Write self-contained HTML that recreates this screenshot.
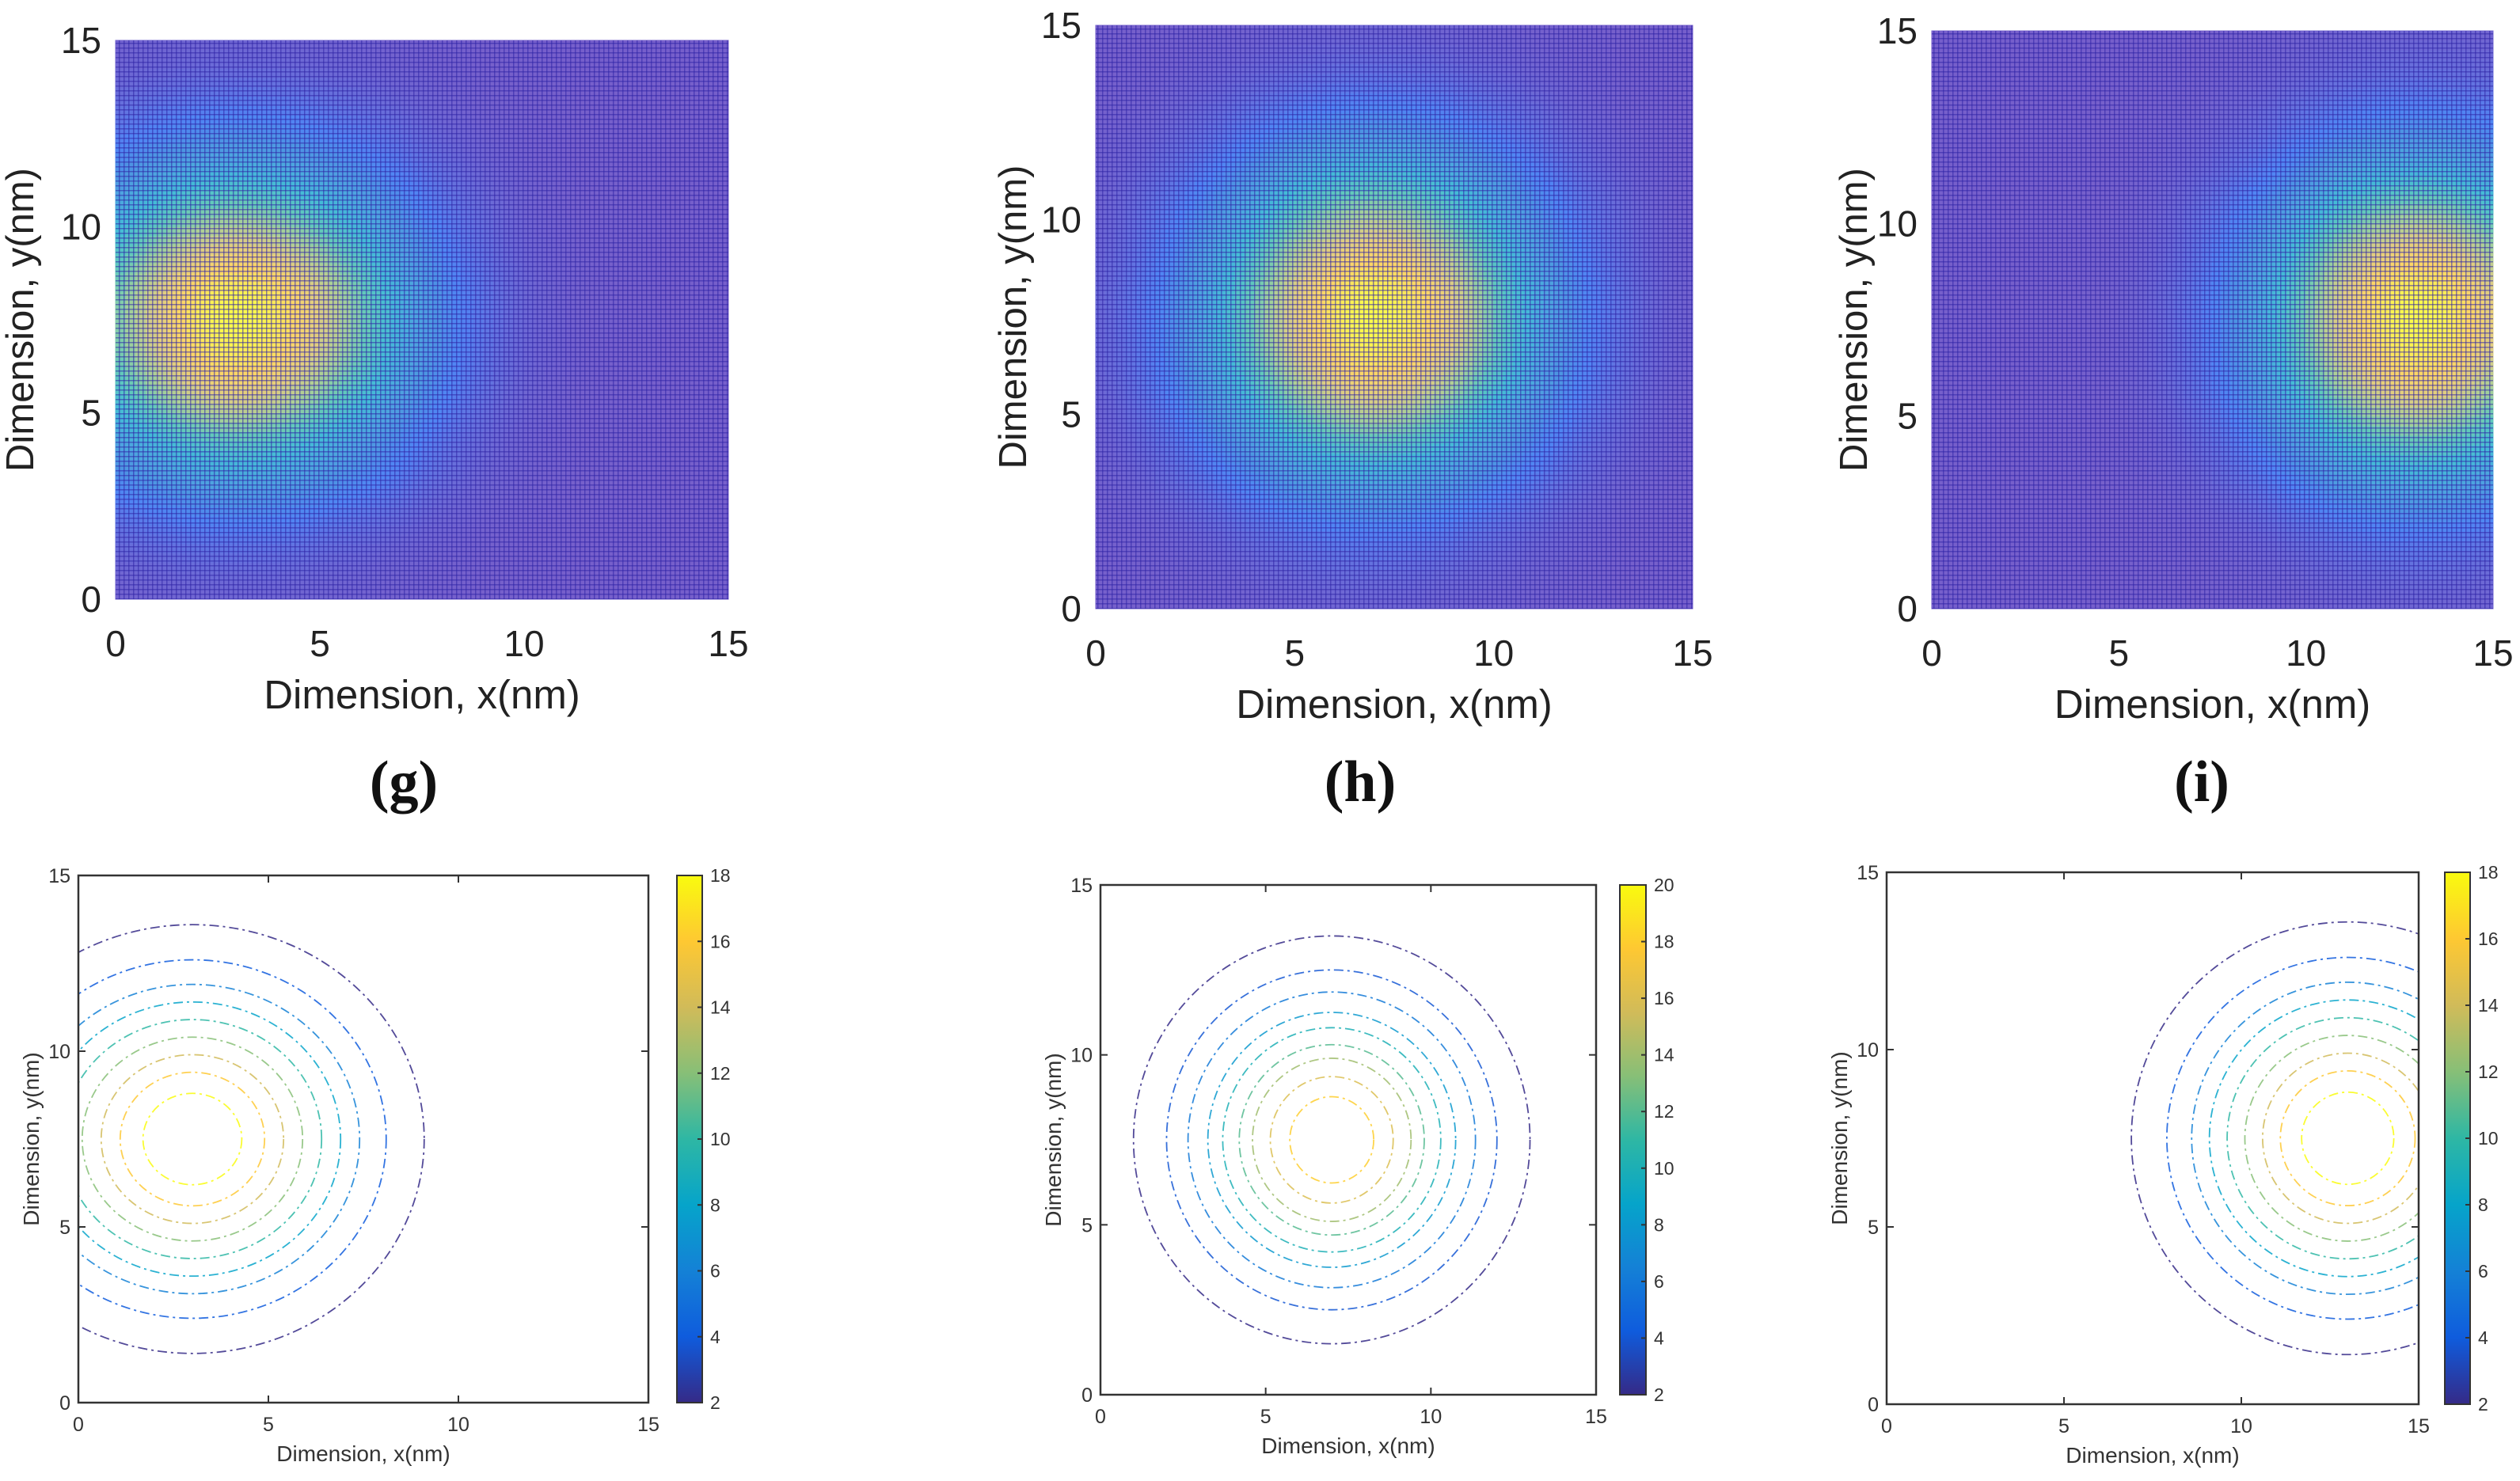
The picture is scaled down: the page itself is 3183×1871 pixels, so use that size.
<!DOCTYPE html>
<html><head><meta charset="utf-8">
<style>
html,body{margin:0;padding:0;background:#fff;}
body{width:3183px;height:1871px;overflow:hidden;}
svg{display:block;}
</style></head>
<body>
<svg id="fig" width="3183" height="1871" viewBox="0 0 3183 1871" xmlns="http://www.w3.org/2000/svg">
<defs>
<pattern id="mesh" width="6" height="6" patternUnits="userSpaceOnUse">
<rect x="0" y="0" width="6" height="1.5" fill="rgba(45,35,165,0.55)"/>
<rect x="0" y="0" width="1.5" height="6" fill="rgba(45,35,165,0.55)"/>
</pattern>
<linearGradient id="parulaGrad" x1="0" y1="1" x2="0" y2="0">
<stop offset="0" stop-color="#352a87"/><stop offset="0.125" stop-color="#0f5cdd"/>
<stop offset="0.25" stop-color="#1481d6"/><stop offset="0.375" stop-color="#06a4ca"/>
<stop offset="0.5" stop-color="#2eb7a4"/><stop offset="0.625" stop-color="#87bf77"/>
<stop offset="0.75" stop-color="#d1bb59"/><stop offset="0.875" stop-color="#fec832"/>
<stop offset="1" stop-color="#f9fb0e"/>
</linearGradient>
</defs>
<g id="root"></g>
</svg>
<script>
// ---- data ----
const axisTicks = [0, 5, 10, 15];
const panelLabels = ["(g)", "(h)", "(i)"];
const peakX = [3, 7, 13];
const peakY = [7.5, 7.5, 7.5];
const peakSigma = [2.7, 2.7, 2.7];
const contourLevels = [2, 4, 6, 8, 10, 12, 14, 16, 18];
const contourRadiiG = [6.1, 5.1, 4.4, 3.9, 3.4, 2.9, 2.4, 1.9, 1.3];
const contourRadiiH = [6.0, 5.0, 4.35, 3.75, 3.3, 2.8, 2.4, 1.86, 1.27];
const contourRadiiI = [6.1, 5.1, 4.4, 3.9, 3.4, 2.9, 2.4, 1.9, 1.3];
const colorbarMax = [18, 20, 18];
const colorbarTicksG = [2, 4, 6, 8, 10, 12, 14, 16, 18];
const colorbarTicksH = [2, 4, 6, 8, 10, 12, 14, 16, 18, 20];
const colorbarTicksI = [2, 4, 6, 8, 10, 12, 14, 16, 18];

// ---- layout (pixels) ----
const topBoxes = [
  {l:146,r:920,t:51,b:757,ytx:42},
  {l:1384,r:2138,t:32,b:769,ytx:1296},
  {l:2440,r:3149,t:39,b:769,ytx:2358}
];
const botBoxes = [
  {l:99,r:819,t:1106,b:1772,cl:855,cr:887},
  {l:1390,r:2016,t:1118,b:1762,cl:2046,cr:2079},
  {l:2383,r:3055,t:1102,b:1774,cl:3088,cr:3120}
];
const labelX = [510, 1718, 2781];
const radii = [contourRadiiG, contourRadiiH, contourRadiiI];
const cbTicks = [colorbarTicksG, colorbarTicksH, colorbarTicksI];

const NS = "http://www.w3.org/2000/svg";
const root = document.getElementById("root");
function mk(tag, attrs, parent){const e=document.createElementNS(NS,tag);for(const k in attrs)e.setAttribute(k,attrs[k]);(parent||root).appendChild(e);return e;}
const stops=[[0,[53,42,135]],[0.125,[15,92,221]],[0.25,[20,129,214]],[0.375,[6,164,202]],[0.5,[46,183,164]],[0.625,[135,191,119]],[0.75,[209,187,89]],[0.875,[254,200,50]],[1,[249,251,14]]];
function parula(v){v=Math.max(0,Math.min(1,v));for(let i=1;i<stops.length;i++){if(v<=stops[i][0]){const a=stops[i-1],b=stops[i];const f=(v-a[0])/(b[0]-a[0]);return [0,1,2].map(j=>a[1][j]+(b[1][j]-a[1][j])*f);}}return stops[stops.length-1][1];}
function rgb(c,w){return "rgb("+c.map(x=>Math.round(x+(255-x)*w)).join(",")+")";}
const FONT='"Liberation Sans", Arial, sans-serif';

// ---- top heatmaps ----
topBoxes.forEach((B,p)=>{
  const g=mk("g",{});
  
  
  const sx=v=>B.l+(B.r-B.l)*v/15, sy=v=>B.b-(B.b-B.t)*v/15;
  const N=60, step=15/N;
  for(let i=0;i<N;i++)for(let j=0;j<N;j++){
    const x=(i+0.5)*step,y=(j+0.5)*step;
    const d2=(x-peakX[p])**2+(y-peakY[p])**2;
    const v=Math.exp(-d2/(2*peakSigma[p]**2));
    const base=parula(v);
    if(v<0.2){base[0]+=20*(0.2-v)/0.2;base[2]+=50*(0.2-v)/0.2;}
    const r=mk("rect",{x:sx(i*step)-0.5,y:sy((j+1)*step)-0.5,width:(B.r-B.l)/N+1,height:(B.b-B.t)/N+1,fill:rgb(base.map(c=>Math.min(255,c)),0.25)},g);
    
    
  }
  const m=mk("rect",{x:B.l,y:B.t,width:B.r-B.l,height:B.b-B.t,fill:"url(#mesh)"},g);
  
  
  axisTicks.forEach(t=>{
    const tx=mk("text",{x:sx(t),y:B.b+72,"font-size":46,"font-family":FONT,"text-anchor":"middle",fill:"#222"},g);tx.textContent=t;
    
    
    const ty=mk("text",{x:B.l-18,y:sy(t)+16,"font-size":46,"font-family":FONT,"text-anchor":"end",fill:"#222"},g);ty.textContent=t;
    
    
  });
  const xt=mk("text",{x:(B.l+B.r)/2,y:B.b+138,"font-size":51,"font-family":FONT,"text-anchor":"middle",fill:"#222"},g);xt.textContent="Dimension, x(nm)";
  
  
  const yc=(B.t+B.b)/2;
  const yt=mk("text",{x:B.ytx,y:yc,"font-size":49,"font-family":FONT,"text-anchor":"middle",fill:"#222",transform:"rotate(-90 "+B.ytx+" "+yc+")"},g);yt.textContent="Dimension, y(nm)";
  
  
  const pl=mk("text",{x:labelX[p],y:1012,"font-size":74,"font-weight":"bold","font-family":'"Liberation Serif", serif',"text-anchor":"middle",fill:"#111"});pl.textContent=panelLabels[p];
  
  
});

// ---- bottom contour plots ----
botBoxes.forEach((B,p)=>{
  const g=mk("g",{});
  
  
  const sx=v=>B.l+(B.r-B.l)*v/15, sy=v=>B.b-(B.b-B.t)*v/15;
  const clip=mk("clipPath",{id:"clip"+p},g);mk("rect",{x:B.l,y:B.t,width:B.r-B.l,height:B.b-B.t},clip);
  const cg=mk("g",{"clip-path":"url(#clip"+p+")"},g);
  radii[p].forEach((r,k)=>{
    const lv=contourLevels[k];
    const e=mk("ellipse",{cx:sx(peakX[p]),cy:sy(peakY[p]),rx:(B.r-B.l)*r/15,ry:(B.b-B.t)*r/15,fill:"none",stroke:rgb(parula((lv-2)/(colorbarMax[p]-2)),0.15),"stroke-width":1.8,"stroke-dasharray":"12 5 3 5"},cg);
    
    
  });
  const box=mk("rect",{x:B.l,y:B.t,width:B.r-B.l,height:B.b-B.t,fill:"none",stroke:"#333","stroke-width":2.5},g);
  
  
  axisTicks.forEach(t=>{
    mk("line",{x1:sx(t),x2:sx(t),y1:B.b,y2:B.b-9,stroke:"#333","stroke-width":2},g);
    mk("line",{x1:sx(t),x2:sx(t),y1:B.t,y2:B.t+9,stroke:"#333","stroke-width":2},g);
    mk("line",{x1:B.l,x2:B.l+9,y1:sy(t),y2:sy(t),stroke:"#333","stroke-width":2},g);
    mk("line",{x1:B.r,x2:B.r-9,y1:sy(t),y2:sy(t),stroke:"#333","stroke-width":2},g);
    const tx=mk("text",{x:sx(t),y:B.b+36,"font-size":25,"font-family":FONT,"text-anchor":"middle",fill:"#333"},g);tx.textContent=t;
    
    
    const ty=mk("text",{x:B.l-10,y:sy(t)+9,"font-size":25,"font-family":FONT,"text-anchor":"end",fill:"#333"},g);ty.textContent=t;
    
    
  });
  const xt=mk("text",{x:(B.l+B.r)/2,y:B.b+74,"font-size":28,"font-family":FONT,"text-anchor":"middle",fill:"#333"},g);xt.textContent="Dimension, x(nm)";
  
  
  const yc=(B.t+B.b)/2, yx=B.l-50;
  const yt=mk("text",{x:yx,y:yc,"font-size":28,"font-family":FONT,"text-anchor":"middle",fill:"#333",transform:"rotate(-90 "+yx+" "+yc+")"},g);yt.textContent="Dimension, y(nm)";
  
  
  // colorbar
  const cb=mk("rect",{x:B.cl,y:B.t,width:B.cr-B.cl,height:B.b-B.t,fill:"url(#parulaGrad)",stroke:"#333","stroke-width":2},g);
  
  
  const cy=v=>B.b-(B.b-B.t)*(v-2)/(colorbarMax[p]-2);
  cbTicks[p].forEach(t=>{
    mk("line",{x1:B.cr,x2:B.cr-6,y1:cy(t),y2:cy(t),stroke:"#333","stroke-width":2},g);
    const tl=mk("text",{x:B.cr+10,y:cy(t)+8,"font-size":23,"font-family":FONT,fill:"#333"},g);tl.textContent=t;
    
    
  });
});
</script>
</body></html>
